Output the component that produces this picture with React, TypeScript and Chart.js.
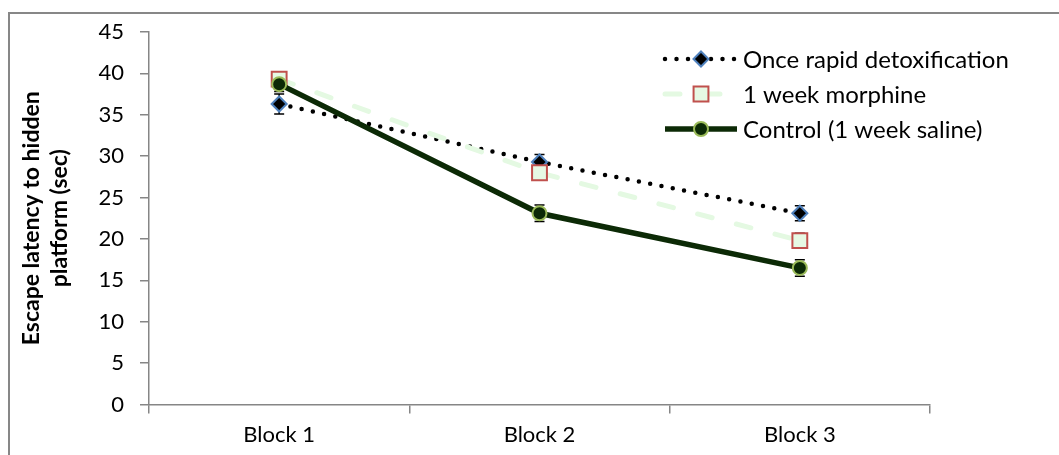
import React, { useEffect, useRef } from 'react';
import { Chart, registerables } from 'chart.js';

Chart.register(...registerables);

const categories = ['Block 1', 'Block 2', 'Block 3'];
const seriesLabels = ['Once rapid detoxification', '1 week morphine', 'Control (1 week saline)'];
const detoxValues = [36.3, 29.3, 23.1];
const detoxErrors = [1.2, 0.9, 0.9];
const morphineValues = [39.3, 28.0, 19.8];
const morphineErrors = [0.8, 0.9, 0.9];
const controlValues = [38.7, 23.1, 16.5];
const controlErrors = [0.9, 1.0, 1.0];
const yTitle = ['Escape latency to hidden', 'platform (sec)'];

const FONT = 'Lato, "Open Sans", sans-serif';
const AXIS = '#868686';

const errorBarPlugin = {
  id: 'errorBars',
  beforeDatasetsDraw(chart: any) {
    const ctx = chart.ctx;
    const yScale = chart.scales.y;
    ctx.save();
    ctx.strokeStyle = '#000';
    ctx.lineWidth = 1.5;
    chart.data.datasets.forEach((ds: any, di: number) => {
      const meta = chart.getDatasetMeta(di);
      (ds.errors || []).forEach((e: number, i: number) => {
        const pt = meta.data[i];
        if (!pt) return;
        const v = ds.data[i];
        const top = yScale.getPixelForValue(v + e);
        const bot = yScale.getPixelForValue(v - e);
        ctx.beginPath();
        ctx.moveTo(pt.x, top);
        ctx.lineTo(pt.x, bot);
        ctx.moveTo(pt.x - 5, top);
        ctx.lineTo(pt.x + 5, top);
        ctx.moveTo(pt.x - 5, bot);
        ctx.lineTo(pt.x + 5, bot);
        ctx.stroke();
      });
    });
    ctx.restore();
  },
};

function drawMarker(ctx: CanvasRenderingContext2D, style: string, r: number, x: number, y: number) {
  ctx.beginPath();
  if (style === 'circle') {
    ctx.arc(x, y, r, 0, Math.PI * 2);
  } else if (style === 'rect') {
    const s = r * Math.SQRT1_2;
    ctx.rect(x - s, y - s, 2 * s, 2 * s);
  } else {
    ctx.moveTo(x, y - r);
    ctx.lineTo(x + r, y);
    ctx.lineTo(x, y + r);
    ctx.lineTo(x - r, y);
    ctx.closePath();
  }
  ctx.fill();
  ctx.stroke();
}

const frameAndLegendPlugin = {
  id: 'frameLegend',
  afterDraw(chart: any) {
    const ctx = chart.ctx;
    ctx.save();
    ctx.strokeStyle = '#878787';
    ctx.lineWidth = 2;
    ctx.beginPath();
    ctx.moveTo(9, chart.height + 2);
    ctx.lineTo(9, 13);
    ctx.lineTo(chart.width + 2, 13);
    ctx.stroke();

    const x0 = 665;
    const x1 = 737;
    const xm = 701;
    const xt = 743;
    const rows = [59, 94, 129];
    chart.data.datasets.forEach((ds: any, i: number) => {
      const y = rows[i];
      ctx.save();
      ctx.strokeStyle = ds.borderColor;
      ctx.lineWidth = ds.borderWidth;
      ctx.lineCap = ds.borderCapStyle || 'butt';
      ctx.setLineDash(ds.borderDash || []);
      ctx.beginPath();
      ctx.moveTo(x0, y);
      ctx.lineTo(x1, y);
      ctx.stroke();
      ctx.restore();
      ctx.save();
      ctx.fillStyle = ds.pointBackgroundColor;
      ctx.strokeStyle = ds.pointBorderColor;
      ctx.lineWidth = ds.pointBorderWidth;
      drawMarker(ctx, ds.pointStyle, ds.pointRadius, xm, y);
      ctx.restore();
      ctx.fillStyle = '#000';
      ctx.font = `24px ${FONT}`;
      ctx.textBaseline = 'middle';
      ctx.textAlign = 'left';
      ctx.fillText(seriesLabels[i], xt, y + 1);
    });
    ctx.restore();
  },
};

export default function App() {
  const ref = useRef<HTMLCanvasElement>(null);
  useEffect(() => {
    document.body.style.margin = '0';
    const chart = new Chart(ref.current!, {
      type: 'line',
      data: {
        labels: categories,
        datasets: [
          {
            label: seriesLabels[0],
            data: detoxValues,
            errors: detoxErrors,
            borderColor: '#000000',
            borderWidth: 4.5,
            borderDash: [0, 11.5],
            borderCapStyle: 'round',
            pointStyle: 'rectRot',
            pointRadius: 7.5,
            pointBackgroundColor: '#000000',
            pointBorderColor: '#4f81bd',
            pointBorderWidth: 2,
            order: 3,
          } as any,
          {
            label: seriesLabels[1],
            data: morphineValues,
            errors: morphineErrors,
            borderColor: '#e4f9e2',
            borderWidth: 5,
            borderDash: [15, 25],
            borderCapStyle: 'round',
            pointStyle: 'rect',
            pointRadius: 10.5,
            pointBackgroundColor: '#e6f9e4',
            pointBorderColor: '#c0504d',
            pointBorderWidth: 2,
            order: 2,
          } as any,
          {
            label: seriesLabels[2],
            data: controlValues,
            errors: controlErrors,
            borderColor: '#0c2a06',
            borderWidth: 5.5,
            pointStyle: 'circle',
            pointRadius: 7,
            pointBackgroundColor: '#0c2a06',
            pointBorderColor: '#9bbb59',
            pointBorderWidth: 2,
            order: 1,
          } as any,
        ],
      },
      options: {
        animation: false,
        responsive: true,
        maintainAspectRatio: false,
        layout: { padding: { top: 32, right: 129, left: 0, bottom: 0 } },
        plugins: {
          legend: { display: false },
          tooltip: { enabled: false },
        },
        elements: { line: { tension: 0 } },
        scales: {
          x: {
            type: 'category',
            offset: true,
            grid: { offset: true, drawOnChartArea: false, drawTicks: true, tickLength: 9, color: AXIS, lineWidth: 1.5 },
            border: { color: AXIS, width: 1.5 },
            ticks: { color: '#000', font: { family: FONT, size: 22 }, padding: 8 },
            afterFit: (s: any) => { s.height = 50.5; },
          },
          y: {
            min: 0,
            max: 45,
            ticks: { stepSize: 5, color: '#000', font: { family: FONT, size: 22 }, padding: 16 },
            grid: { drawOnChartArea: false, drawTicks: true, tickLength: 9, color: AXIS, lineWidth: 1.5 },
            border: { color: AXIS, width: 1.5 },
            title: {
              display: true,
              text: yTitle,
              color: '#000',
              font: { family: FONT, size: 23, weight: 'bold', lineHeight: 1.2 },
              padding: { top: 18, bottom: 0 },
            },
            afterFit: (s: any) => { s.width = 149; },
          },
        },
      },
      plugins: [errorBarPlugin, frameAndLegendPlugin],
    });
    return () => chart.destroy();
  }, []);
  return (
    <div style={{ position: 'absolute', left: 0, top: 0, width: 1059, height: 455 }}>
      <canvas ref={ref} />
    </div>
  );
}
